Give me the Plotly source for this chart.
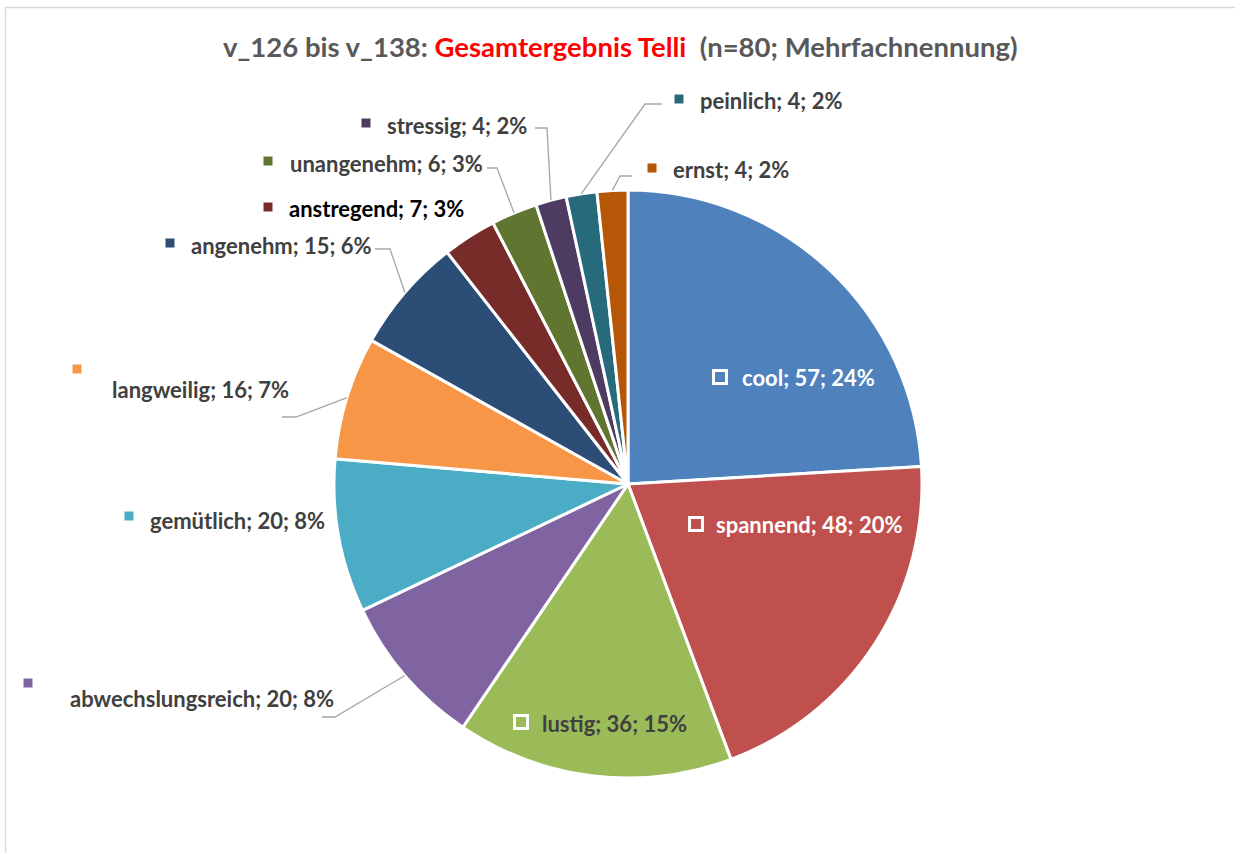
import math
import plotly.graph_objects as go

W, H = 1235, 853

categories = ["cool", "spannend", "lustig", "abwechslungsreich", "gemütlich", "langweilig",
              "angenehm", "anstregend", "unangenehm", "stressig", "peinlich", "ernst"]
counts = [57, 48, 36, 20, 20, 16, 15, 7, 6, 4, 4, 4]
percent_labels = ["24%", "20%", "15%", "8%", "8%", "7%", "6%", "3%", "3%", "2%", "2%", "2%"]
colors = ["#4F81BD", "#C0504D", "#9BBB59", "#8064A2", "#4BACC6", "#F79646",
          "#2C4D75", "#772C2A", "#5F7530", "#4D3B62", "#276A7C", "#B65708"]

# pie geometry (pixels)
CX, CY, R = 628, 484, 294

# label layout: marker center, text left x, text center y, text color, leader elbow/end
layout_pos = {
    "cool":              dict(mk=(720, 377), tx=740, ty=377, col="white", inside=True),
    "spannend":          dict(mk=(696, 524), tx=714, ty=524, col="white", inside=True),
    "lustig":            dict(mk=(521, 722), tx=540, ty=723, col="#404040", inside=True),
    "abwechslungsreich": dict(mk=(28, 683), tx=68, ty=698, col="#404040", lead=[(335, 717), (322, 717)]),
    "gemütlich":         dict(mk=(129, 516), tx=148, ty=520, col="#404040"),
    "langweilig":        dict(mk=(77, 369), tx=110, ty=389, col="#404040", lead=[(296, 417), (282, 417)]),
    "angenehm":          dict(mk=(170, 243), tx=189, ty=246, col="#404040", lead=[(390, 249), (375, 249)]),
    "anstregend":        dict(mk=(268, 207), tx=287, ty=209, col="#000000"),
    "unangenehm":        dict(mk=(268, 161), tx=288, ty=163, col="#404040", lead=[(497, 168), (487, 168)]),
    "stressig":          dict(mk=(366, 123), tx=385, ty=125, col="#404040", lead=[(547, 128), (535, 128)]),
    "peinlich":          dict(mk=(679, 99), tx=698, ty=100, col="#404040", lead=[(645, 104), (662, 104)]),
    "ernst":             dict(mk=(652, 168), tx=671, ty=169, col="#404040", lead=[(620, 176), (632, 176)]),
}

def px(x):
    return x / W

def py(y):
    return 1 - y / H

FONT = "Lato"

fig = go.Figure()
fig.add_trace(go.Pie(
    labels=categories, values=counts, sort=False, direction="clockwise", rotation=0,
    marker=dict(colors=colors, line=dict(color="white", width=3)),
    textinfo="none", hoverinfo="label+value+percent", showlegend=False,
    domain=dict(x=[px(CX - R), px(CX + R)], y=[py(CY + R), py(CY - R)]),
))

total = sum(counts)
shapes = []
annotations = []

# border
shapes.append(dict(type="rect", xref="paper", yref="paper", x0=px(5.5), x1=px(W + 10),
                   y0=py(H + 10), y1=py(7.5), line=dict(color="#D9D9D9", width=1.5),
                   fillcolor="rgba(0,0,0,0)", layer="below"))

cum = 0
for cat, val, pct, col in zip(categories, counts, percent_labels, colors):
    mid = (cum + val / 2) / total * 2 * math.pi
    cum += val
    lp = layout_pos[cat]
    sx = CX + R * math.sin(mid)
    sy = CY - R * math.cos(mid)
    if "lead" in lp:
        pts = [(sx, sy)] + lp["lead"]
        path = "M " + " L ".join(f"{px(x)},{py(y)}" for x, y in pts)
        shapes.append(dict(type="path", xref="paper", yref="paper", path=path,
                           line=dict(color="#A6A6A6", width=1.3)))
    mx, my = lp["mk"]
    if lp.get("inside"):
        s = 6.5
        shapes.append(dict(type="rect", xref="paper", yref="paper",
                           x0=px(mx - s), x1=px(mx + s), y0=py(my + s), y1=py(my - s),
                           fillcolor=col, line=dict(color="white", width=3), layer="above"))
    else:
        s = 4.5
        shapes.append(dict(type="rect", xref="paper", yref="paper",
                           x0=px(mx - s), x1=px(mx + s), y0=py(my + s), y1=py(my - s),
                           fillcolor=col, line=dict(width=0), layer="above"))
    annotations.append(dict(
        xref="paper", yref="paper", x=px(lp["tx"]), y=py(lp["ty"]),
        xanchor="left", yanchor="middle", showarrow=False,
        text=f"<b>{cat}; {val}; {pct}</b>",
        font=dict(family=FONT, size=22, color=lp["col"]),
    ))

annotations.append(dict(
    xref="paper", yref="paper", x=px(621), y=py(46), xanchor="center", yanchor="middle",
    showarrow=False,
    text=("<b>v_126 bis v_138: <span style='color:#FF0000'>Gesamtergebnis Telli</span>"
          "  (n=80; Mehrfachnennung)</b>"),
    font=dict(family=FONT, size=27.5, color="#595959"),
))

fig.update_layout(
    width=W, height=H, margin=dict(l=0, r=0, t=0, b=0),
    paper_bgcolor="white", plot_bgcolor="white",
    shapes=shapes, annotations=annotations,
)

fig.write_html("out.html", config={"displayModeBar": False},
               post_script="document.body.style.margin='0';document.body.style.overflow='hidden';")
